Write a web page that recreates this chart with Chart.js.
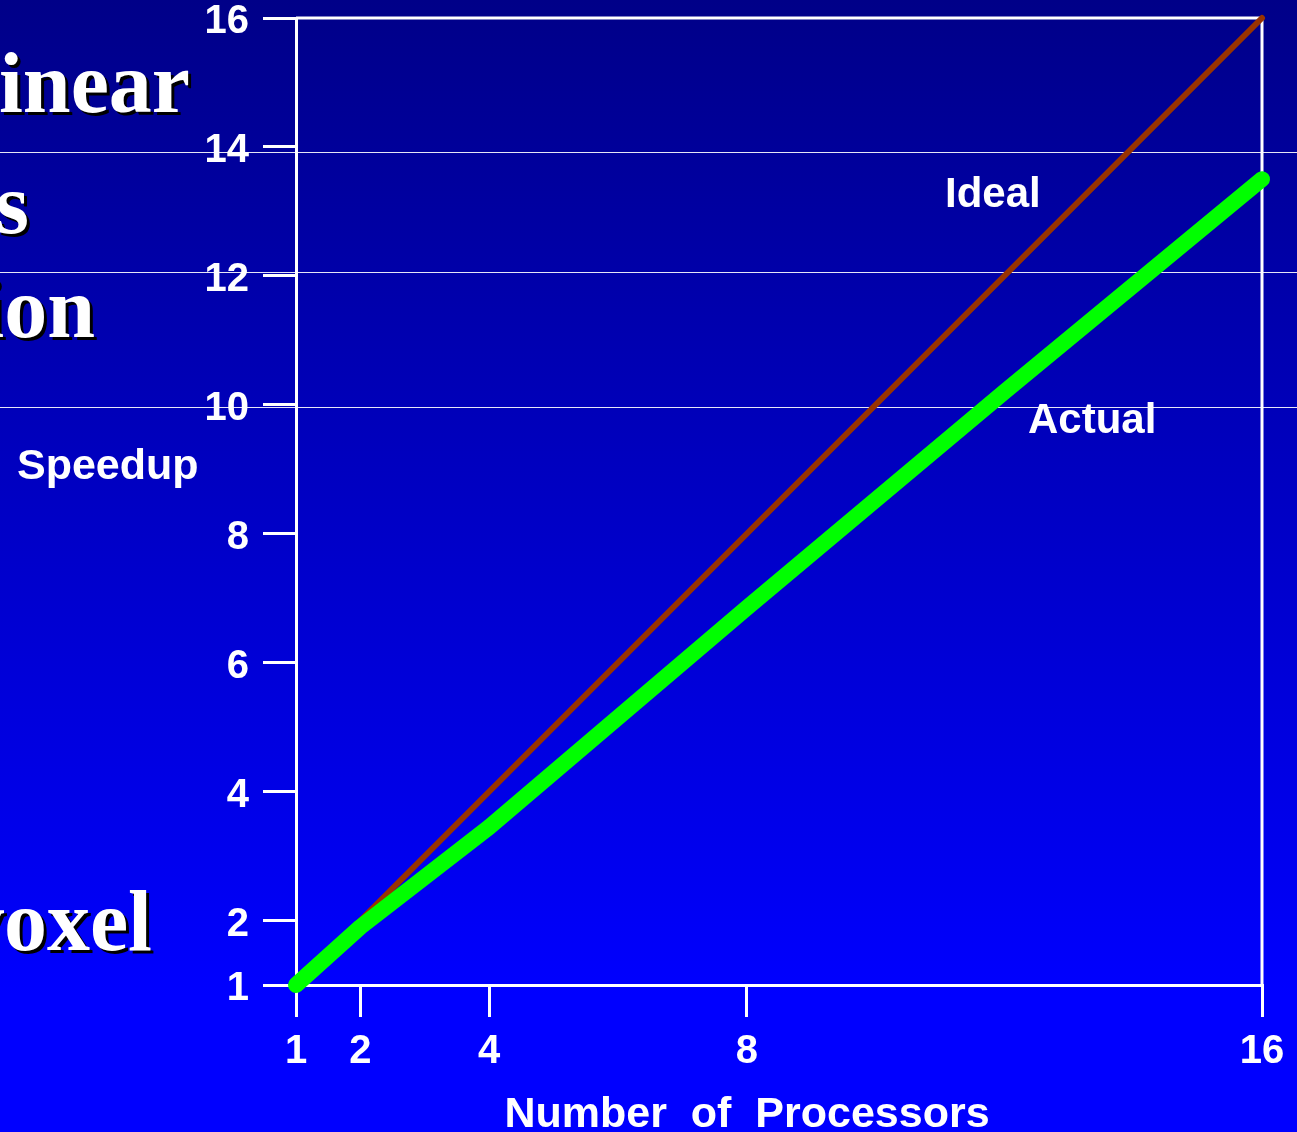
<!DOCTYPE html>
<html>
<head>
<meta charset="utf-8">
<title>Speedup</title>
<script src="https://cdn.jsdelivr.net/npm/chart.js@4.4.0/dist/chart.umd.min.js"></script>
<style>
  html, body { margin: 0; padding: 0; overflow: hidden; background: #0000c0; }
  #wrap { width: 1297px; height: 1132px; }
</style>
</head>
<body>
<div id="wrap"><canvas id="speedChart" width="1297" height="1132"></canvas></div>
<script>
// processors vs speedup
const processors = [1, 2, 4, 8, 12, 16];
const actualSpeedup = [1, 1.9, 3.45, 6.85, 10.2, 13.5];
const idealProcessors = [1, 16];
const idealSpeedup = [1, 16];
const xTicks = [1, 2, 4, 8, 16];
const yTicks = [1, 2, 4, 6, 8, 10, 12, 14, 16];

const sansBold = '"Liberation Sans", Arial, Helvetica, sans-serif';
const serifBold = '"Liberation Serif", "Times New Roman", serif';

// slide background, leftover title words and thin rule lines
const slideBackground = {
    id: 'slideBackground',
    beforeDraw(chart) {
        const ctx = chart.ctx;
        const w = chart.width, h = chart.height;
        const grad = ctx.createLinearGradient(0, 0, 0, h);
        grad.addColorStop(0, '#000088');
        grad.addColorStop(0.88, '#0000ff');
        grad.addColorStop(1, '#0000ff');
        ctx.save();
        ctx.fillStyle = grad;
        ctx.fillRect(0, 0, w, h);

        // title words cut off at the left edge
        ctx.font = 'bold 86px ' + serifBold;
        ctx.textAlign = 'right';
        ctx.textBaseline = 'alphabetic';
        const words = [['inear', 190, 112], ['s', 29, 233], ['ion', 95, 337], ['voxel', 152, 950]];
        words.forEach(([t, x, y]) => {
            ctx.fillStyle = '#000000';
            ctx.fillText(t, x + 3, y + 3);
            ctx.fillStyle = '#ffffff';
            ctx.fillText(t, x, y);
        });

        // thin rules across the slide
        ctx.fillStyle = 'rgba(255,255,255,0.9)';
        [152, 272, 407].forEach(y => ctx.fillRect(0, y, w, 1));
        ctx.restore();
    },
    beforeDatasetsDraw(chart) {
        // top and right frame of the plot
        const { ctx, chartArea } = chart;
        ctx.save();
        ctx.strokeStyle = '#ffffff';
        ctx.lineWidth = 3;
        ctx.beginPath();
        ctx.moveTo(chartArea.left, chartArea.top);
        ctx.lineTo(chartArea.right, chartArea.top);
        ctx.lineTo(chartArea.right, chartArea.bottom);
        ctx.stroke();
        ctx.restore();
    },
    afterDatasetsDraw(chart) {
        const ctx = chart.ctx;
        ctx.save();
        ctx.fillStyle = '#ffffff';
        ctx.font = 'bold 43px ' + sansBold;
        ctx.textBaseline = 'alphabetic';
        ctx.textAlign = 'left';
        ctx.fillText('Speedup', 17, 479);
        ctx.font = 'bold 42px ' + sansBold;
        ctx.fillText('Ideal', 945, 207);
        ctx.fillText('Actual', 1028, 433);
        ctx.font = 'bold 43px ' + sansBold;
        ctx.textAlign = 'center';
        ctx.fillText('Number  of  Processors', 747, 1127);
        ctx.restore();
    }
};

const tickFont = { family: sansBold, size: 40, weight: 'bold' };

new Chart(document.getElementById('speedChart'), {
    type: 'line',
    data: {
        datasets: [
            {
                label: 'Actual',
                data: processors.map((p, i) => ({ x: p, y: actualSpeedup[i] })),
                borderColor: '#00ff00',
                borderWidth: 16,
                borderCapStyle: 'round',
                borderJoinStyle: 'round',
                pointRadius: 0,
                tension: 0,
                clip: false,
                order: 0
            },
            {
                label: 'Ideal',
                data: idealProcessors.map((p, i) => ({ x: p, y: idealSpeedup[i] })),
                borderColor: '#993300',
                borderWidth: 6,
                borderCapStyle: 'round',
                pointRadius: 0,
                tension: 0,
                clip: false,
                order: 1
            }
        ]
    },
    options: {
        responsive: false,
        animation: false,
        devicePixelRatio: 1,
        layout: { padding: { top: 18, right: 35, left: 0, bottom: 0 } },
        plugins: { legend: { display: false }, tooltip: { enabled: false } },
        scales: {
            x: {
                type: 'linear',
                min: 1,
                max: 16,
                afterBuildTicks: s => { s.ticks = xTicks.map(v => ({ value: v })); },
                afterFit: s => { s.height = 147; s.paddingLeft = 0; s.paddingRight = 0; },
                grid: { drawOnChartArea: false, tickLength: 32, color: '#ffffff', lineWidth: 3 },
                border: { color: '#ffffff', width: 3 },
                ticks: { color: '#ffffff', font: tickFont, padding: 11, autoSkip: false, maxRotation: 0 }
            },
            y: {
                type: 'linear',
                min: 1,
                max: 16,
                afterBuildTicks: s => { s.ticks = yTicks.map(v => ({ value: v })); },
                afterFit: s => { s.width = 296; s.paddingTop = 0; s.paddingBottom = 0; },
                grid: { drawOnChartArea: false, tickLength: 33, color: '#ffffff', lineWidth: 3 },
                border: { color: '#ffffff', width: 3 },
                ticks: { color: '#ffffff', font: tickFont, padding: 14, labelOffset: 4, autoSkip: false }
            }
        }
    },
    plugins: [slideBackground]
});
</script>
</body>
</html>
